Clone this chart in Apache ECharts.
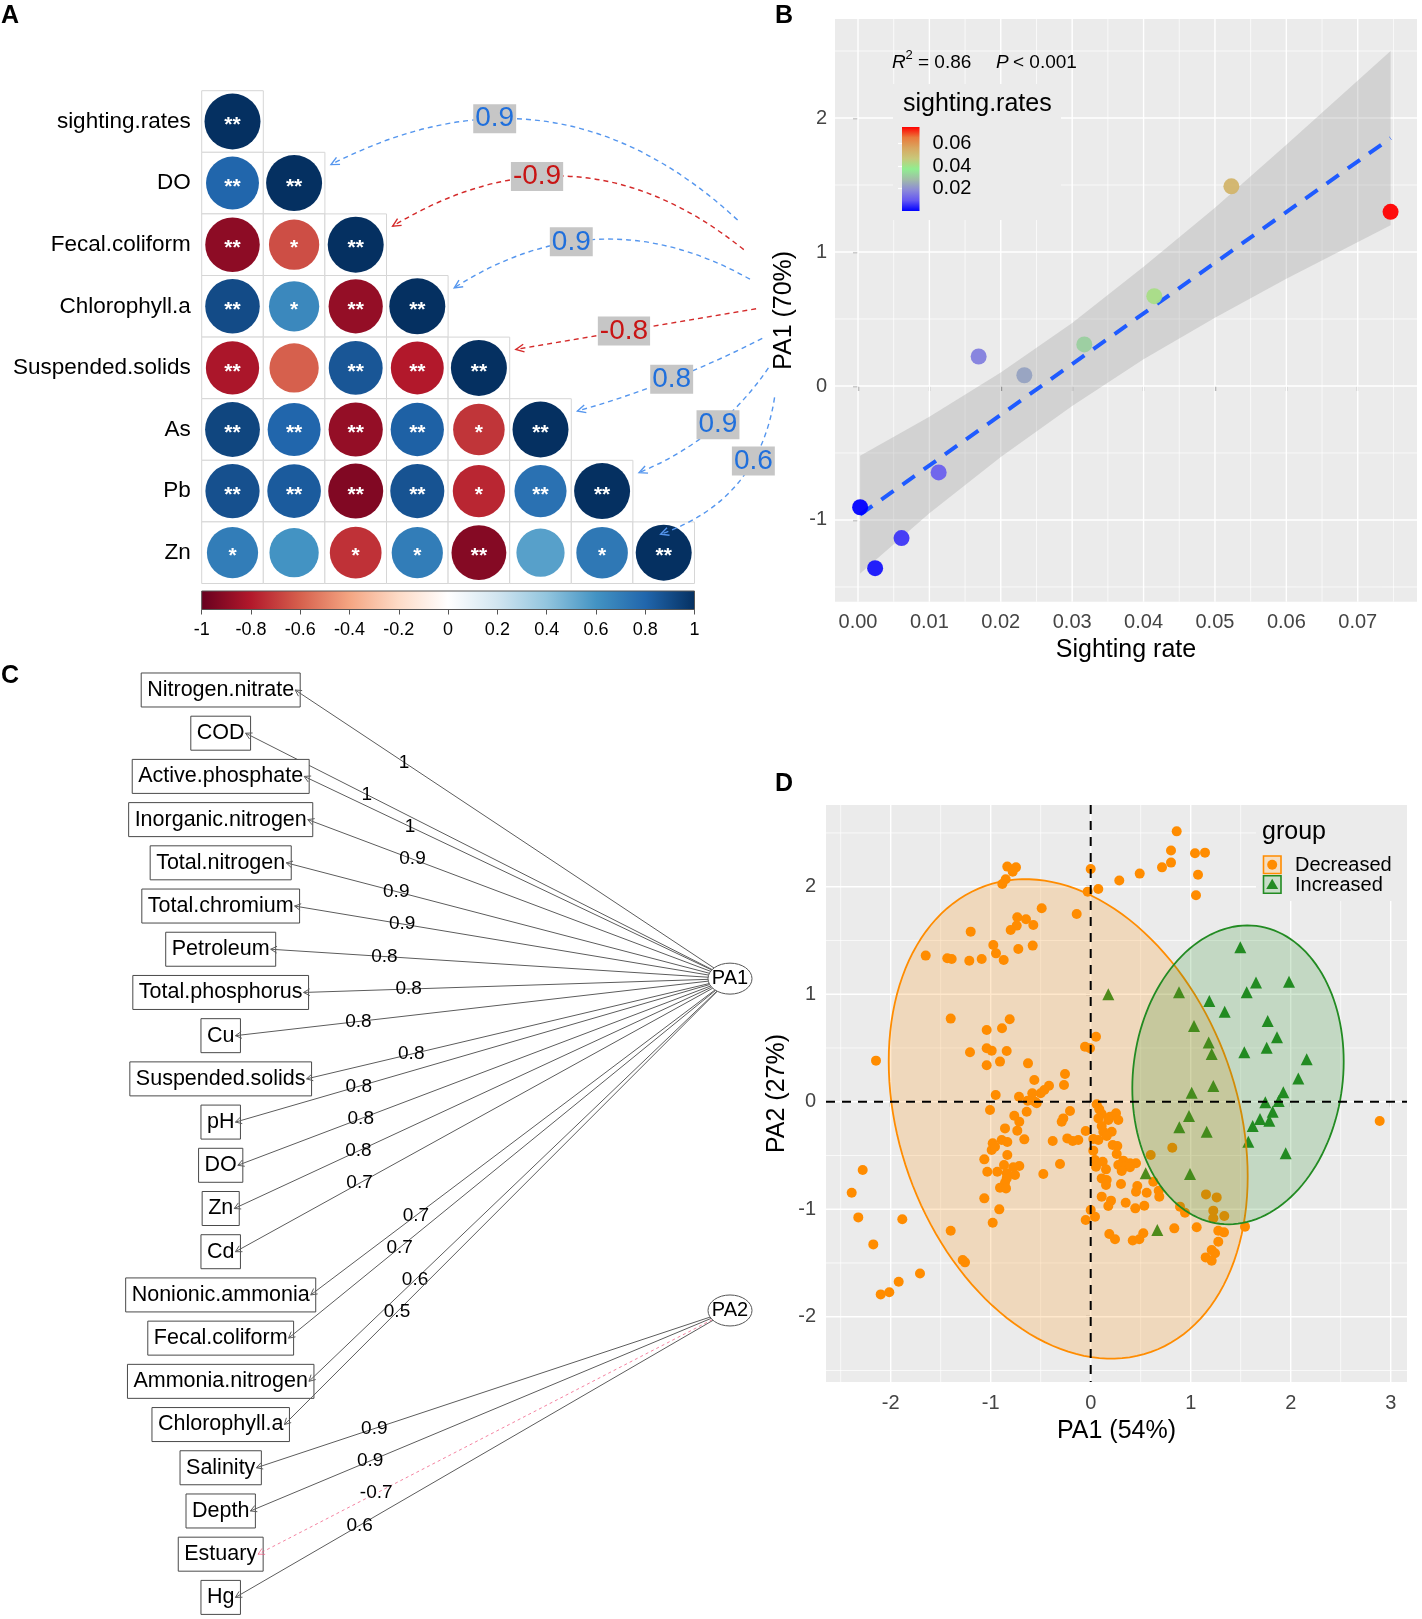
<!DOCTYPE html>
<html>
<head>
<meta charset="utf-8">
<title>Figure</title>
<script src="https://cdn.jsdelivr.net/npm/echarts@6.0.0/dist/echarts.min.js"></script>
<style>
html,body{margin:0;padding:0;background:#ffffff;}
#chart{width:1422px;height:1619px;}
</style>
</head>
<body>
<div id="chart"></div>
<script>
// ================= Panel A data =================
const corrVars = ['sighting.rates','DO','Fecal.coliform','Chlorophyll.a','Suspended.solids','As','Pb','Zn'];
const corrR = [
  [1],
  [0.8, 1],
  [-0.9, -0.65, 1],
  [0.9, 0.65, -0.88, 1],
  [-0.82, -0.6, 0.86, -0.8, 1],
  [0.92, 0.8, -0.88, 0.82, -0.72, 1],
  [0.88, 0.84, -0.93, 0.87, -0.76, 0.75, 1],
  [0.7, 0.6, -0.73, 0.7, -0.92, 0.55, 0.72, 1]
];
const corrSig = [
  ['**'],
  ['**','**'],
  ['**','*','**'],
  ['**','*','**','**'],
  ['**','','**','**','**'],
  ['**','**','**','**','*','**'],
  ['**','**','**','**','*','**','**'],
  ['*','','*','*','**','','*','**']
];
const mantelRows = [1, 2, 3, 4, 5, 6, 7];
const mantelR = [0.9, -0.9, 0.9, -0.8, 0.8, 0.9, 0.6];

// ================= Panel B data =================
const sightRate = [0.0003, 0.0024, 0.0061, 0.0113, 0.0169, 0.0233, 0.0317, 0.0415, 0.0523, 0.0746];
const pa1Score  = [-0.905, -1.36, -1.135, -0.645, 0.22, 0.08, 0.31, 0.67, 1.49, 1.30];
const fitX = [0.0003, 0.0746];
const fitY = [-0.96, 1.85];
const bandX    = [0.0003, 0.01, 0.02, 0.03, 0.04, 0.05, 0.06, 0.0746];
const bandLow  = [-1.40, -0.95, -0.53, -0.15, 0.20, 0.51, 0.80, 1.20];
const bandHigh = [-0.52, -0.23, 0.10, 0.47, 0.89, 1.33, 1.80, 2.50];
const bXTicks = [0, 0.01, 0.02, 0.03, 0.04, 0.05, 0.06, 0.07];
const bXMinor = [0.005, 0.015, 0.025, 0.035, 0.045, 0.055, 0.065, 0.075];
const bYTicks = [-1, 0, 1, 2];
const bYMinor = [-1.5, -0.5, 0.5, 1.5, 2.5];
const bLegendTicks = [0.02, 0.04, 0.06];

// ================= Panel C data =================
const pathVars = ['Nitrogen.nitrate','COD','Active.phosphate','Inorganic.nitrogen','Total.nitrogen','Total.chromium',
  'Petroleum','Total.phosphorus','Cu','Suspended.solids','pH','DO','Zn','Cd','Nonionic.ammonia','Fecal.coliform',
  'Ammonia.nitrogen','Chlorophyll.a','Salinity','Depth','Estuary','Hg'];
const pathLoad = [1, 1, 1, 0.9, 0.9, 0.9, 0.8, 0.8, 0.8, 0.8, 0.8, 0.8, 0.8, 0.7, 0.7, 0.7, 0.6, 0.5, 0.9, 0.9, -0.7, 0.6];
const pathFactor = [0,0,0,0,0,0,0,0,0,0,0,0,0,0,0,0,0,0,1,1,1,1];
const latentNames = ['PA1', 'PA2'];

// ================= Panel D data =================
const decreasedPts = [
  [-2.147,0.382],[-0.834,2.187],[-0.747,2.18],[-0.78,2.14],[-0.85,2.07],[-0.884,2.026],[-0.49,1.80],[-0.14,1.746],
  [-0.734,1.716],[-0.74,1.638],[-0.647,1.697],[-0.574,1.644],[-0.8,1.598],[-1.2,1.582],[-0.974,1.458],[-0.58,1.452],
  [-0.947,1.38],[-0.724,1.42],[-1.65,1.359],[-1.434,1.334],[-1.39,1.328],[-1.214,1.312],[-1.09,1.328],[-0.87,1.319],
  [-1.4,0.773],[-0.81,0.767],[-1.04,0.667],[-0.887,0.683],[-1.04,0.497],[-0.99,0.475],[-0.84,0.472],[-1.207,0.46],
  [-0.907,0.373],[-0.627,0.357],[-1.04,0.339],
  [0.86,2.515],[0.803,2.336],[1.043,2.311],[1.143,2.317],[0.803,2.224],[0.713,2.18],[0.0,2.165],[0.49,2.122],
  [0.286,2.057],[1.073,2.112],[0.076,1.979],[-0.03,1.954],[1.053,1.92],[0.053,0.605],[-0.057,0.512],[-0.007,0.497],
  [-0.257,0.258],[-0.267,0.155],[-0.207,-0.086],[-0.274,-0.155],[-0.29,-0.186],[0.06,-0.024],[0.086,-0.071],[0.11,-0.114],
  [0.077,-0.155],[0.193,-0.139],[0.253,-0.108],[0.276,-0.17],[0.176,-0.17],[0.11,-0.226],[0.126,-0.279],[0.21,-0.279],
  [0.16,-0.319],[-0.05,-0.272],[0.026,-0.347],[0.077,-0.356],[-0.234,-0.341],[-0.18,-0.365],[-0.124,-0.356],[0.22,-0.403],
  [0.266,-0.412],[0.26,-0.486],[0.026,-0.455],[0.6,-0.496],[0.816,-0.428],[0.326,-0.548],[0.393,-0.573],[0.453,-0.573],
  [0.276,-0.589],[0.343,-0.604],[0.393,-0.61],[0.043,-0.542],[0.053,-0.604],[0.12,-0.558],[0.153,-0.629],[0.31,-0.645],
  [-0.307,-0.579],[0.11,-0.713],[0.16,-0.728],[0.153,-0.775],[0.303,-0.765],[0.466,-0.784],[0.453,-0.837],[0.56,-0.846],
  [0.626,-0.744],[0.68,-0.828],[0.686,-0.883],[0.11,-0.883],[0.203,-0.92],[0.176,-0.97],[0.35,-0.939],[0.446,-0.992],
  [0.536,-0.967],[0.0,-1.007],[0.043,-1.07],[-0.05,-1.1],[0.893,-0.976],[0.943,-1.032],[1.153,-0.862],[1.26,-0.89],
  [1.226,-1.013],[1.336,-1.063],[1.226,-1.085],[1.543,-1.162],[0.836,-1.178],[1.06,-1.168],[1.276,-1.2],[1.333,-1.215],
  [0.186,-1.23],[0.243,-1.28],[0.42,-1.29],[0.486,-1.28],[0.526,-1.224],[1.276,-1.302],[1.21,-1.38],[1.243,-1.41],
  [1.15,-1.448],[1.21,-1.479],
  [-0.564,0.202],[-0.417,0.149],[-0.464,0.109],[-0.5,0.078],[-0.584,0.078],[-0.557,0.0],[-0.63,0.01],[-0.54,-0.015],
  [-0.717,0.047],[-0.95,0.062],[-1.007,-0.077],[-0.64,-0.093],[-0.764,-0.13],[-0.714,-0.186],[-0.857,-0.248],[-0.734,-0.269],
  [-0.89,-0.356],[-0.834,-0.375],[-0.664,-0.35],[-0.38,-0.365],[-0.98,-0.387],[-0.99,-0.449],[-0.957,-0.418],[-0.834,-0.496],
  [-1.064,-0.536],[-0.867,-0.589],[-0.714,-0.598],[-0.774,-0.61],[-1.034,-0.651],[-0.934,-0.651],[-0.84,-0.666],[-0.757,-0.682],
  [-0.84,-0.713],[-0.857,-0.753],[-0.474,-0.672],[-0.907,-0.8],[-0.847,-0.806],[-1.064,-0.899],[-0.914,-1.001],[-0.98,-1.125],
  [-2.28,-0.635],[-2.39,-0.846],[-2.324,-1.076],[-1.884,-1.094],[-2.174,-1.327],[-1.4,-1.2],[-1.28,-1.472],[-1.257,-1.494],
  [-1.707,-1.597],[-1.92,-1.674],[-2.014,-1.773],[-2.1,-1.792],[2.89,-0.18]
];
const increasedPts = [
  [1.496,1.436],[1.653,1.108],[1.983,1.117],[1.56,1.018],[0.883,1.018],[0.176,1.0],[1.186,0.937],[1.34,0.838],
  [1.77,0.751],[1.033,0.705],[1.863,0.599],[1.18,0.55],[1.76,0.503],[1.21,0.444],[1.536,0.46],[2.16,0.395],
  [2.076,0.217],[1.226,0.146],[1.01,0.084],[1.926,0.087],[1.746,-0.006],[1.88,0.007],[1.82,-0.093],[1.693,-0.161],
  [1.786,-0.176],[0.983,-0.133],[1.62,-0.226],[0.886,-0.238],[1.16,-0.279],[1.576,-0.372],[1.95,-0.48],[0.55,-0.666],
  [0.993,-0.672],[0.666,-1.193]
];
const groupNames = ['Decreased', 'Increased'];
const ellipseCenter = [[-0.225, -0.16], [1.473, 0.25]];
const ellipseSpread = [[1.795, 2.23], [1.057, 1.39]];
const ellipseRho = [-0.24, 0.09];
const refLineX = [0];
const refLineY = [0];
const dXTicks = [-2, -1, 0, 1, 2, 3];
const dXMinor = [-2.5, -1.5, -0.5, 0.5, 1.5, 2.5];
const dYTicks = [-2, -1, 0, 1, 2];
const dYMinor = [-2.5, -1.5, -0.5, 0.5, 1.5, 2.5];

// ================= styles / layout =================
const FONT = 'Liberation Sans';
const RDBU = ['#67001F','#B2182B','#D6604D','#F4A582','#FDDBC7','#FFFFFF','#D1E5F0','#92C5DE','#4393C3','#2166AC','#053061'];
const SR_COLS = ['#0000ff','#6457f2','#8c8ad8','#a0bca8','#90ee90','#c8c87a','#d8a760','#e97a3c','#ff0000'];
const ORANGE = '#ff8c00', GREEN = '#228b22';
const CELL = 61.6;
const mantelCurve = [-0.35, -0.35, -0.3, 0.0, 0.05, 0.15, 0.3];
const mantelLabelT = [0.62, 0.6, 0.6, 0.55, 0.5, 0.45, 0.35];
const latentRow = [6.68, 14.36];
const NODE_RX = 22, NODE_RY = 15.5;

function stopsFrom(cols) { return cols.map((c, i) => ({ offset: i / (cols.length - 1), color: c })); }
const mctx = document.createElement('canvas').getContext('2d');
function textWidth(s, px) { mctx.font = px + 'px "Liberation Sans"'; return mctx.measureText(s).width; }
function fmtNum(v) { return String(Math.round(v * 10) / 10); }

function gridData(xMaj, xMin, yMaj, yMin) {
  return [].concat(xMaj.map(v => [v, 0]), xMin.map(v => [v, 1]), yMaj.map(v => [v, 2]), yMin.map(v => [v, 3]));
}
function gridLineRender(params, api) {
  const cs = params.coordSys;
  const v = api.value(0), kind = api.value(1);
  const w = (kind % 2 === 0) ? 1.4 : 0.7;
  if (kind < 2) {
    const x = api.coord([v, 0])[0];
    return { type: 'line', shape: { x1: x, y1: cs.y, x2: x, y2: cs.y + cs.height }, style: { stroke: '#ffffff', lineWidth: w } };
  }
  const y = api.coord([0, v])[1];
  return { type: 'line', shape: { x1: cs.x, y1: y, x2: cs.x + cs.width, y2: y }, style: { stroke: '#ffffff', lineWidth: w } };
}

// derived series data
const circleData = [], cellData = [];
corrR.forEach((row, i) => row.forEach((r, j) => {
  circleData.push({ value: [j, i, r], sig: corrSig[i][j] });
  cellData.push([j, i]);
}));
const sMin = Math.min.apply(null, sightRate), sMax = Math.max.apply(null, sightRate);

const axisTextColor = '#444444';
function ggAxis(extra) {
  return Object.assign({
    type: 'value', splitLine: { show: false }, axisLine: { show: false },
    nameLocation: 'middle', nameTextStyle: { fontSize: 25, color: '#000', fontFamily: FONT }
  }, extra);
}

const option = {
  animation: false,
  textStyle: { fontFamily: FONT },
  grid: [
    { left: 201.7, top: 90.7, width: CELL * 8, height: CELL * 8 },                 // 0 A cells
    { left: 201.7, top: 90.7, width: CELL * 9.5, height: CELL * 8 },               // 1 A arrows
    { left: 201.7, top: 591, width: CELL * 8, height: 18.5 },                      // 2 A colorbar
    { left: 835, top: 19, width: 582, height: 582.7, show: true, backgroundColor: '#ebebeb', borderWidth: 0 }, // 3 B
    { left: 902, top: 127, width: 17.5, height: 84 },                              // 4 B legend
    { left: 220.7, top: 668.38, width: 509.3, height: 951.28 },                    // 5 C
    { left: 826, top: 805, width: 581, height: 577, show: true, backgroundColor: '#ebebeb', borderWidth: 0 }  // 6 D
  ],
  xAxis: [
    { type: 'category', gridIndex: 0, data: corrVars, show: false },
    { type: 'value', gridIndex: 1, min: -0.5, max: 9, show: false },
    { type: 'value', gridIndex: 2, min: -1, max: 1, interval: 0.2,
      axisLine: { show: false }, splitLine: { show: false },
      axisTick: { show: true, length: 5, lineStyle: { color: '#555' } },
      axisLabel: { fontSize: 18, color: '#000', margin: 12, formatter: v => fmtNum(v) } },
    ggAxis({ gridIndex: 3, min: -0.00322, max: 0.0783, name: 'Sighting rate', nameGap: 36,
      axisTick: { show: true, length: 5, customValues: bXTicks, lineStyle: { color: '#333', width: 1.2 } },
      axisLabel: { customValues: bXTicks, formatter: v => v.toFixed(2), fontSize: 20, color: axisTextColor, margin: 11 } }),
    { type: 'value', gridIndex: 4, min: 0, max: 1, show: false },
    { type: 'value', gridIndex: 5, min: 0, max: 1, show: false },
    ggAxis({ gridIndex: 6, min: -2.647, max: 3.163, name: 'PA1 (54%)', nameGap: 37,
      axisTick: { show: true, length: 5, customValues: dXTicks, lineStyle: { color: '#333', width: 1.2 } },
      axisLabel: { customValues: dXTicks, fontSize: 20, color: axisTextColor, margin: 11 } })
  ],
  yAxis: [
    { type: 'category', gridIndex: 0, data: corrVars, inverse: true,
      axisLine: { show: false }, axisTick: { show: false },
      axisLabel: { fontSize: 22.5, color: '#000', margin: 11 } },
    { type: 'value', gridIndex: 1, min: -0.5, max: 7.5, inverse: true, show: false },
    { type: 'value', gridIndex: 2, min: 0, max: 1, show: false },
    ggAxis({ gridIndex: 3, min: -1.61, max: 2.739, name: 'PA1 (70%)', nameGap: 38,
      axisTick: { show: true, length: 5, customValues: bYTicks, lineStyle: { color: '#333', width: 1.2 } },
      axisLabel: { customValues: bYTicks, fontSize: 20, color: axisTextColor, margin: 8 } }),
    { type: 'value', gridIndex: 4, min: sMin, max: sMax, position: 'right', z: 5,
      splitLine: { show: false }, axisLine: { show: false },
      axisTick: { show: true, inside: true, length: 4, customValues: bLegendTicks, lineStyle: { color: '#ffffff', width: 1.2 } },
      axisLabel: { customValues: bLegendTicks, formatter: v => v.toFixed(2), fontSize: 20, color: '#000', margin: 13 } },
    { type: 'value', gridIndex: 5, min: -0.5, max: 21.5, inverse: true, show: false },
    ggAxis({ gridIndex: 6, min: -2.607, max: 2.76, name: 'PA2 (27%)', nameGap: 36,
      axisTick: { show: true, length: 5, customValues: dYTicks, lineStyle: { color: '#333', width: 1.2 } },
      axisLabel: { customValues: dYTicks, fontSize: 20, color: axisTextColor, margin: 10 } })
  ],
  visualMap: [
    { type: 'continuous', show: false, min: -1, max: 1, dimension: 2, seriesIndex: 1, inRange: { color: RDBU } },
    { type: 'continuous', show: false, min: sMin, max: sMax, dimension: 0, seriesIndex: 7, inRange: { color: SR_COLS } }
  ],
  series: [
    // 0 A cells
    { type: 'custom', xAxisIndex: 0, yAxisIndex: 0, z: 1, silent: true, data: cellData,
      renderItem: (params, api) => {
        const c = api.coord([api.value(0), api.value(1)]);
        const s = api.size([1, 1]);
        return { type: 'rect', shape: { x: c[0] - s[0] / 2, y: c[1] - s[1] / 2, width: s[0], height: s[1] },
          style: { fill: '#ffffff', stroke: '#d6d6d6', lineWidth: 1 } };
      } },
    // 1 A circles
    { type: 'scatter', xAxisIndex: 0, yAxisIndex: 0, z: 3, silent: true, data: circleData,
      itemStyle: { opacity: 1 },
      symbolSize: v => 56 * Math.pow(Math.abs(v[2]), 0.25),
      label: { show: true, position: 'inside', formatter: p => p.data.sig, color: '#ffffff', fontSize: 21, fontWeight: 'bold', offset: [0, 4] } },
    // 2 A arrows
    { type: 'custom', xAxisIndex: 1, yAxisIndex: 1, z: 4, silent: true, data: mantelRows.map((r, k) => [k, r]),
      renderItem: (params, api) => {
        const k = params.dataIndex;
        const row = mantelRows[k];
        const p1 = api.coord([8.2 + 0.1 * k, 1.6 + 0.48 * k]);
        const p2 = api.coord([Math.min(row + 0.6, 6.95), row - 0.3]);
        const c = mantelCurve[k];
        const cp = [(p1[0] + p2[0]) / 2 - (p1[1] - p2[1]) * c, (p1[1] + p2[1]) / 2 - (p2[0] - p1[0]) * c];
        const neg = mantelR[k] < 0;
        const lineCol = neg ? '#d42a2a' : '#5596ee';
        const txtCol = neg ? '#c81414' : '#1f6fdc';
        const ang = Math.atan2(p2[1] - cp[1], p2[0] - cp[0]);
        const L = 9, a = 0.45;
        const h1 = [p2[0] - L * Math.cos(ang - a), p2[1] - L * Math.sin(ang - a)];
        const h2 = [p2[0] - L * Math.cos(ang + a), p2[1] - L * Math.sin(ang + a)];
        const t = mantelLabelT[k];
        const lx = (1 - t) * (1 - t) * p1[0] + 2 * t * (1 - t) * cp[0] + t * t * p2[0];
        const ly = (1 - t) * (1 - t) * p1[1] + 2 * t * (1 - t) * cp[1] + t * t * p2[1];
        return { type: 'group', children: [
          { type: 'bezierCurve', shape: { x1: p1[0], y1: p1[1], x2: p2[0], y2: p2[1], cpx1: cp[0], cpy1: cp[1] },
            style: { stroke: lineCol, lineWidth: 1.4, lineDash: [5, 4], fill: null } },
          { type: 'polyline', shape: { points: [h1, p2, h2] }, style: { stroke: lineCol, lineWidth: 1.4, fill: null } },
          { type: 'text', x: lx, y: ly, style: { text: fmtNum(mantelR[k]), fill: txtCol, fontSize: 28, fontFamily: FONT,
            align: 'center', verticalAlign: 'middle', textAlign: 'center', textVerticalAlign: 'middle',
            backgroundColor: '#c6c6c6', padding: [1, 2, 0, 2] } }
        ] };
      } },
    // 3 A colorbar
    { type: 'custom', xAxisIndex: 2, yAxisIndex: 2, z: 2, silent: true, data: [[0, 0]],
      renderItem: (params, api) => {
        const a = api.coord([-1, 1]), b = api.coord([1, 0]);
        return { type: 'rect', shape: { x: a[0], y: a[1], width: b[0] - a[0], height: b[1] - a[1] },
          style: { fill: new echarts.graphic.LinearGradient(0, 0, 1, 0, stopsFrom(RDBU)), stroke: '#555', lineWidth: 1 } };
      } },
    // 4 B gridlines
    { type: 'custom', xAxisIndex: 3, yAxisIndex: 3, z: 1, silent: true,
      data: gridData(bXTicks, bXMinor, bYTicks, bYMinor), renderItem: gridLineRender },
    // 5 B confidence band
    { type: 'custom', xAxisIndex: 3, yAxisIndex: 3, z: 2, silent: true, data: [[bandX[0], bandLow[0]]],
      renderItem: (params, api) => {
        const pts = [];
        for (let i = 0; i < bandX.length; i++) pts.push(api.coord([bandX[i], bandHigh[i]]));
        for (let i = bandX.length - 1; i >= 0; i--) pts.push(api.coord([bandX[i], bandLow[i]]));
        return { type: 'polygon', shape: { points: pts }, style: { fill: 'rgba(153,153,153,0.3)' } };
      } },
    // 6 B fit line
    { type: 'line', xAxisIndex: 3, yAxisIndex: 3, z: 3, silent: true, showSymbol: false, symbol: 'none',
      data: fitX.map((x, i) => [x, fitY[i]]),
      lineStyle: { color: '#1f5bff', width: 4, type: [15, 11] } },
    // 7 B points
    { type: 'scatter', xAxisIndex: 3, yAxisIndex: 3, z: 4, silent: true, symbolSize: 16,
      itemStyle: { opacity: 0.95 },
      data: sightRate.map((x, i) => [x, pa1Score[i]]) },
    // 8 B legend bar
    { type: 'custom', xAxisIndex: 4, yAxisIndex: 4, z: 2, silent: true, data: [[0, sMin]],
      renderItem: (params, api) => {
        const a = api.coord([0, sMax]), b = api.coord([1, sMin]);
        return { type: 'rect', shape: { x: a[0], y: a[1], width: b[0] - a[0], height: b[1] - a[1] },
          style: { fill: new echarts.graphic.LinearGradient(0, 1, 0, 0, stopsFrom(SR_COLS)) } };
      } },
    // 9 C boxes + edges
    { type: 'custom', xAxisIndex: 5, yAxisIndex: 5, z: 2, silent: true, data: pathVars.map((n, i) => [0, i]),
      renderItem: (params, api) => {
        const i = params.dataIndex;
        const p = api.coord([0, i]);
        const q = api.coord([1, latentRow[pathFactor[i]]]);
        const name = pathVars[i];
        const w = textWidth(name, 21.5);
        const padX = 6, h = 34;
        const tip = [p[0] + w / 2 + 1, p[1]];
        const dx = tip[0] - q[0], dy = tip[1] - q[1];
        const tt = 1 / Math.sqrt((dx / NODE_RX) * (dx / NODE_RX) + (dy / NODE_RY) * (dy / NODE_RY));
        const s = [q[0] + dx * tt, q[1] + dy * tt];
        const ang = Math.atan2(tip[1] - s[1], tip[0] - s[0]);
        const L = 7, a = 0.5;
        const h1 = [tip[0] - L * Math.cos(ang - a), tip[1] - L * Math.sin(ang - a)];
        const h2 = [tip[0] - L * Math.cos(ang + a), tip[1] - L * Math.sin(ang + a)];
        const lp = [tip[0] + 0.26 * (s[0] - tip[0]), tip[1] + 0.26 * (s[1] - tip[1])];
        const neg = pathLoad[i] < 0;
        const ec = neg ? 'rgba(240,90,130,0.75)' : '#5c5c5c';
        return { type: 'group', children: [
          { type: 'rect', shape: { x: p[0] - w / 2 - padX, y: p[1] - h / 2, width: w + 2 * padX, height: h },
            style: { fill: '#ffffff', stroke: '#4a4a4a', lineWidth: 1 } },
          { type: 'text', x: p[0], y: p[1], style: { text: name, fontSize: 21.5, fontFamily: FONT, fill: '#000',
            align: 'center', verticalAlign: 'middle', textAlign: 'center', textVerticalAlign: 'middle' } },
          { type: 'line', shape: { x1: s[0], y1: s[1], x2: tip[0], y2: tip[1] },
            style: { stroke: ec, lineWidth: 1, lineDash: neg ? [3, 3] : null } },
          { type: 'polyline', shape: { points: [h1, tip, h2] }, style: { stroke: ec, lineWidth: 1, fill: null } },
          { type: 'text', x: lp[0], y: lp[1], style: { text: fmtNum(pathLoad[i]), fontSize: 19, fontFamily: FONT, fill: '#000',
            align: 'center', verticalAlign: 'middle', textAlign: 'center', textVerticalAlign: 'middle' } }
        ] };
      } },
    // 10 C latent nodes
    { type: 'custom', xAxisIndex: 5, yAxisIndex: 5, z: 3, silent: true, data: latentRow.map(r => [1, r]),
      renderItem: (params, api) => {
        const c = api.coord([api.value(0), api.value(1)]);
        return { type: 'group', children: [
          { type: 'ellipse', shape: { cx: c[0], cy: c[1], rx: NODE_RX, ry: NODE_RY }, style: { fill: '#ffffff', stroke: '#555', lineWidth: 1 } },
          { type: 'text', x: c[0], y: c[1], style: { text: latentNames[params.dataIndex], fontSize: 20, fontFamily: FONT, fill: '#000',
            align: 'center', verticalAlign: 'middle', textAlign: 'center', textVerticalAlign: 'middle' } }
        ] };
      } },
    // 11 D gridlines
    { type: 'custom', xAxisIndex: 6, yAxisIndex: 6, z: 1, silent: true,
      data: gridData(dXTicks, dXMinor, dYTicks, dYMinor), renderItem: gridLineRender },
    // 12 D decreased
    { type: 'scatter', xAxisIndex: 6, yAxisIndex: 6, z: 2, silent: true, symbol: 'circle', symbolSize: 10,
      itemStyle: { color: ORANGE, opacity: 1 }, data: decreasedPts },
    // 13 D increased
    { type: 'scatter', xAxisIndex: 6, yAxisIndex: 6, z: 2, silent: true, symbol: 'triangle', symbolSize: 12,
      itemStyle: { color: GREEN, opacity: 1 }, data: increasedPts },
    // 14 D ellipses
    { type: 'custom', xAxisIndex: 6, yAxisIndex: 6, z: 3, silent: true, data: ellipseCenter,
      renderItem: (params, api) => {
        const k = params.dataIndex;
        const cx = ellipseCenter[k][0], cy = ellipseCenter[k][1];
        const sx = ellipseSpread[k][0], sy = ellipseSpread[k][1], rho = ellipseRho[k];
        const pts = [];
        for (let n = 0; n < 144; n++) {
          const t = n / 144 * 2 * Math.PI;
          pts.push(api.coord([cx + sx * Math.cos(t), cy + sy * (rho * Math.cos(t) + Math.sqrt(1 - rho * rho) * Math.sin(t))]));
        }
        const fill = k === 0 ? 'rgba(255,140,0,0.2)' : 'rgba(34,139,34,0.2)';
        const stroke = k === 0 ? ORANGE : GREEN;
        return { type: 'polygon', shape: { points: pts }, style: { fill: fill, stroke: stroke, lineWidth: 1.8 } };
      } },
    // 15 D reference lines
    { type: 'custom', xAxisIndex: 6, yAxisIndex: 6, z: 4, silent: true, data: [[refLineX[0], refLineY[0]]],
      renderItem: (params, api) => {
        const cs = params.coordSys;
        const o = api.coord([api.value(0), api.value(1)]);
        const st = { stroke: '#000', lineWidth: 2, lineDash: [9, 7] };
        return { type: 'group', children: [
          { type: 'line', shape: { x1: o[0], y1: cs.y, x2: o[0], y2: cs.y + cs.height }, style: st },
          { type: 'line', shape: { x1: cs.x, y1: o[1], x2: cs.x + cs.width, y2: o[1] }, style: st }
        ] };
      } }
  ],
  graphic: [
    // panel letters
    { type: 'text', x: 1, y: 16, z: 100, style: { text: 'A', font: 'bold 25px "Liberation Sans"', fill: '#000', verticalAlign: 'middle', textVerticalAlign: 'middle' } },
    { type: 'text', x: 775, y: 16, z: 100, style: { text: 'B', font: 'bold 25px "Liberation Sans"', fill: '#000', verticalAlign: 'middle', textVerticalAlign: 'middle' } },
    { type: 'text', x: 1, y: 676, z: 100, style: { text: 'C', font: 'bold 25px "Liberation Sans"', fill: '#000', verticalAlign: 'middle', textVerticalAlign: 'middle' } },
    { type: 'text', x: 775, y: 784, z: 100, style: { text: 'D', font: 'bold 25px "Liberation Sans"', fill: '#000', verticalAlign: 'middle', textVerticalAlign: 'middle' } },
    // B annotation
    { type: 'text', x: 892, y: 63, z: 100, style: { text: 'R', font: 'italic 19px "Liberation Sans"', fill: '#000', verticalAlign: 'middle', textVerticalAlign: 'middle' } },
    { type: 'text', x: 905.5, y: 55, z: 100, style: { text: '2', font: '13px "Liberation Sans"', fill: '#000', verticalAlign: 'middle', textVerticalAlign: 'middle' } },
    { type: 'text', x: 918, y: 63, z: 100, style: { text: '= 0.86', font: '19px "Liberation Sans"', fill: '#000', verticalAlign: 'middle', textVerticalAlign: 'middle' } },
    { type: 'text', x: 996, y: 63, z: 100, style: { text: 'P', font: 'italic 19px "Liberation Sans"', fill: '#000', verticalAlign: 'middle', textVerticalAlign: 'middle' } },
    { type: 'text', x: 1013, y: 63, z: 100, style: { text: '< 0.001', font: '19px "Liberation Sans"', fill: '#000', verticalAlign: 'middle', textVerticalAlign: 'middle' } },
    // B legend
    { type: 'rect', z: 1.5, shape: { x: 893, y: 84, width: 168, height: 136 }, style: { fill: '#ebebeb' } },
    { type: 'text', x: 903, y: 104, z: 100, style: { text: 'sighting.rates', font: '25px "Liberation Sans"', fill: '#000', verticalAlign: 'middle', textVerticalAlign: 'middle' } },
    // D legend
    { type: 'rect', z: 1.5, shape: { x: 1256, y: 805, width: 151, height: 96 }, style: { fill: '#ebebeb' } },
    { type: 'text', x: 1262, y: 832, z: 100, style: { text: 'group', font: '25px "Liberation Sans"', fill: '#000', verticalAlign: 'middle', textVerticalAlign: 'middle' } },
    { type: 'rect', z: 100, shape: { x: 1263.5, y: 856, width: 17.5, height: 17.5 }, style: { fill: '#f5dec2', stroke: ORANGE, lineWidth: 1.6 } },
    { type: 'circle', z: 101, shape: { cx: 1272.2, cy: 864.7, r: 5 }, style: { fill: ORANGE } },
    { type: 'rect', z: 100, shape: { x: 1263.5, y: 875.8, width: 17.5, height: 17.5 }, style: { fill: '#c8ddc8', stroke: GREEN, lineWidth: 1.6 } },
    { type: 'polygon', z: 101, shape: { points: [[1272.2, 878.8], [1278.2, 889], [1266.2, 889]] }, style: { fill: GREEN } },
    { type: 'text', x: 1295, y: 865, z: 100, style: { text: groupNames[0], font: '20px "Liberation Sans"', fill: '#000', verticalAlign: 'middle', textVerticalAlign: 'middle' } },
    { type: 'text', x: 1295, y: 885, z: 100, style: { text: groupNames[1], font: '20px "Liberation Sans"', fill: '#000', verticalAlign: 'middle', textVerticalAlign: 'middle' } }
  ]
};

const chart = echarts.init(document.getElementById('chart'), null, { renderer: 'canvas', width: 1422, height: 1619 });
chart.setOption(option);
</script>
</body>
</html>
